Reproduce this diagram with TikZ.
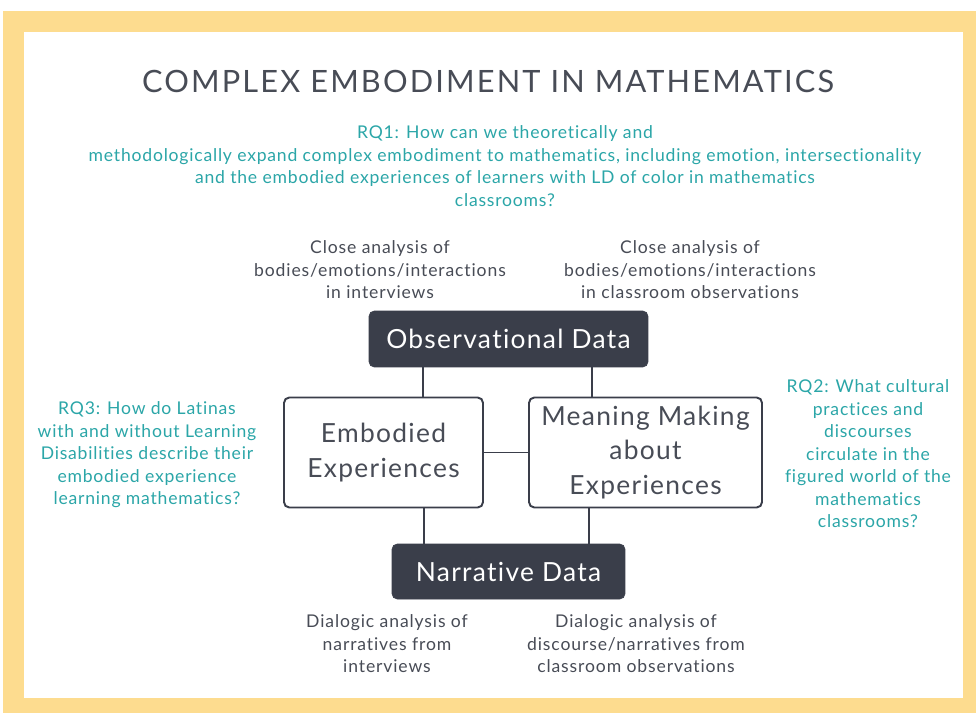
\documentclass[tikz,border=0pt]{standalone}
\usepackage{fontspec}
\setmainfont{Lato}[Ligatures=NoCommon]
\begin{document}
\begin{tikzpicture}[x=0.02cm,y=-0.02cm,
    darkbox/.style={fill=slate, draw=slate, rounded corners=3pt, text=white,
        font=\fontsize{15}{18}\selectfont\addfontfeature{LetterSpace=5}, inner sep=0pt},
    lightbox/.style={fill=white, draw=slate, line width=1.1pt, rounded corners=3pt,
        text=graytext, align=center, font=\fontsize{15}{19.5}\selectfont\addfontfeature{LetterSpace=5}, inner sep=0pt},
    note/.style={text=graytext, align=center, font=\fontsize{10}{12.8}\selectfont\addfontfeature{LetterSpace=5}},
    question/.style={text=tealtext, align=center, font=\fontsize{10}{12.8}\selectfont\addfontfeature{LetterSpace=4.5}},
    link/.style={draw=slate, line width=1.1pt}]
    % Define colors
    \definecolor{frameyellow}{RGB}{253,220,143}
    \definecolor{tealtext}{RGB}{43,166,168}
    \definecolor{slate}{RGB}{58,62,74}
    \definecolor{graytext}{RGB}{72,76,86}

    % Draw the frame
    \useasboundingbox (0,0) rectangle (976,713);
    \fill[frameyellow] (3,11) rectangle (976,713);
    \fill[white] (24,32) rectangle (963,698);

    % Add a title
    \node[text=graytext, font=\fontsize{17.5}{20}\selectfont\addfontfeature{LetterSpace=7}] (title) at (488,81) {COMPLEX EMBODIMENT IN MATHEMATICS};

    % Research questions
    \node[question] (rq1) at (505,166) {RQ1: How can we theoretically and\\
        methodologically expand complex embodiment to mathematics, including emotion, intersectionality\\
        and the embodied experiences of learners with LD of color in mathematics\\
        classrooms?};
    \node[question] (rq3) at (147,455) {RQ3: How do Latinas\\with and without Learning\\Disabilities describe their\\embodied experience\\learning mathematics?};
    \node[question] (rq2) at (868,454) {RQ2: What cultural\\practices and\\discourses\\circulate in the\\figured world of the\\mathematics\\classrooms?};

    % Draw the boxes
    \node[darkbox, minimum width=5.58cm, minimum height=1.12cm] (obs) at (508.5,339) {Observational Data};
    \node[lightbox, minimum width=3.98cm, minimum height=2.2cm] (emb) at (383.5,452.5) {Embodied\\Experiences};
    \node[lightbox, minimum width=4.66cm, minimum height=2.2cm] (mean) at (645.5,452.5) {Meaning Making\\about\\Experiences};
    \node[darkbox, minimum width=4.66cm, minimum height=1.1cm] (narr) at (508.5,571.5) {Narrative Data};

    % Connect the boxes
    \draw[link] ([xshift=0.79cm]emb.north) -- ([xshift=0.79cm]emb.north |- obs.south);
    \draw[link] ([xshift=-1.07cm]mean.north) -- ([xshift=-1.07cm]mean.north |- obs.south);
    \draw[link] (emb.east) -- (mean.west);
    \draw[link] ([xshift=0.81cm]emb.south) -- ([xshift=0.81cm]emb.south |- narr.north);
    \draw[link] ([xshift=-1.13cm]mean.south) -- ([xshift=-1.13cm]mean.south |- narr.north);

    % Add the analysis labels
    \node[note] (closeint) at (380,270) {Close analysis of\\bodies/emotions/interactions\\in interviews};
    \node[note] (closeobs) at (690,270) {Close analysis of\\bodies/emotions/interactions\\in classroom observations};
    \node[note] (dialint) at (387,644) {Dialogic analysis of\\narratives from\\interviews};
    \node[note] (dialobs) at (636,644) {Dialogic analysis of\\discourse/narratives from\\classroom observations};
\end{tikzpicture}
\end{document}
